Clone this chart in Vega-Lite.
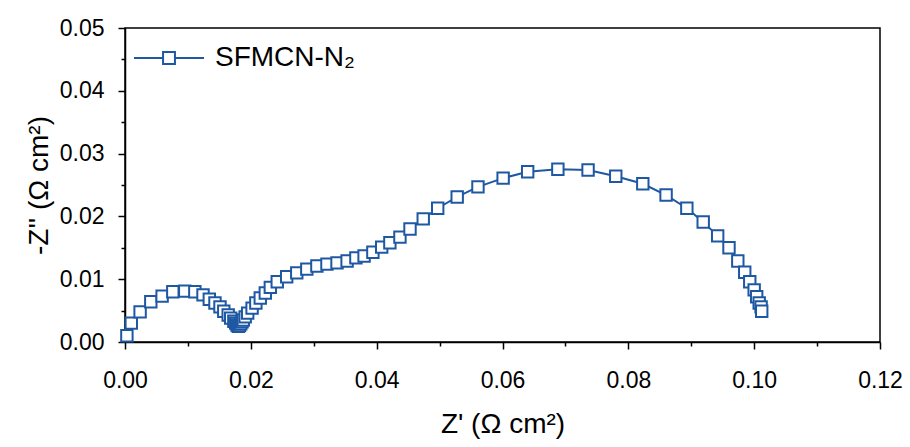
{
  "$schema": "https://vega.github.io/schema/vega-lite/v6.json",
  "width": 755,
  "height": 314,
  "autosize": "none",
  "padding": {"left": 125, "top": 28, "right": 30, "bottom": 105},
  "background": "white",
  "config": {
    "font": "Liberation Sans",
    "view": {"stroke": "black", "strokeWidth": 1.5},
    "axis": {"grid": false, "domainColor": "black", "domainWidth": 1.5, "tickColor": "black", "tickWidth": 1.5, "labelColor": "black", "titleColor": "black", "titleFontWeight": "normal", "labelFont": "Liberation Sans", "titleFont": "Liberation Sans"}
  },
  "data": {"values": [
    {"i": 1, "x": 0.0003, "y": 0.0010, "s": "SFMCN-N₂"},
    {"i": 2, "x": 0.0010, "y": 0.0030, "s": "SFMCN-N₂"},
    {"i": 3, "x": 0.0024, "y": 0.0048, "s": "SFMCN-N₂"},
    {"i": 4, "x": 0.0041, "y": 0.0064, "s": "SFMCN-N₂"},
    {"i": 5, "x": 0.0059, "y": 0.0073, "s": "SFMCN-N₂"},
    {"i": 6, "x": 0.0076, "y": 0.0080, "s": "SFMCN-N₂"},
    {"i": 7, "x": 0.0095, "y": 0.0081, "s": "SFMCN-N₂"},
    {"i": 8, "x": 0.0111, "y": 0.0080, "s": "SFMCN-N₂"},
    {"i": 9, "x": 0.0124, "y": 0.0075, "s": "SFMCN-N₂"},
    {"i": 10, "x": 0.0134, "y": 0.0068, "s": "SFMCN-N₂"},
    {"i": 11, "x": 0.0143, "y": 0.0062, "s": "SFMCN-N₂"},
    {"i": 12, "x": 0.0151, "y": 0.0056, "s": "SFMCN-N₂"},
    {"i": 13, "x": 0.0157, "y": 0.0049, "s": "SFMCN-N₂"},
    {"i": 14, "x": 0.0164, "y": 0.0043, "s": "SFMCN-N₂"},
    {"i": 15, "x": 0.0168, "y": 0.0038, "s": "SFMCN-N₂"},
    {"i": 16, "x": 0.0173, "y": 0.0033, "s": "SFMCN-N₂"},
    {"i": 17, "x": 0.0176, "y": 0.0030, "s": "SFMCN-N₂"},
    {"i": 18, "x": 0.0178, "y": 0.0027, "s": "SFMCN-N₂"},
    {"i": 19, "x": 0.0180, "y": 0.0025, "s": "SFMCN-N₂"},
    {"i": 20, "x": 0.0182, "y": 0.0026, "s": "SFMCN-N₂"},
    {"i": 21, "x": 0.0184, "y": 0.0029, "s": "SFMCN-N₂"},
    {"i": 22, "x": 0.0186, "y": 0.0032, "s": "SFMCN-N₂"},
    {"i": 23, "x": 0.0188, "y": 0.0035, "s": "SFMCN-N₂"},
    {"i": 24, "x": 0.0191, "y": 0.0040, "s": "SFMCN-N₂"},
    {"i": 25, "x": 0.0195, "y": 0.0046, "s": "SFMCN-N₂"},
    {"i": 26, "x": 0.0202, "y": 0.0054, "s": "SFMCN-N₂"},
    {"i": 27, "x": 0.0208, "y": 0.0062, "s": "SFMCN-N₂"},
    {"i": 28, "x": 0.0215, "y": 0.0070, "s": "SFMCN-N₂"},
    {"i": 29, "x": 0.0223, "y": 0.0078, "s": "SFMCN-N₂"},
    {"i": 30, "x": 0.0231, "y": 0.0087, "s": "SFMCN-N₂"},
    {"i": 31, "x": 0.0242, "y": 0.0096, "s": "SFMCN-N₂"},
    {"i": 32, "x": 0.0257, "y": 0.0104, "s": "SFMCN-N₂"},
    {"i": 33, "x": 0.0273, "y": 0.0110, "s": "SFMCN-N₂"},
    {"i": 34, "x": 0.0289, "y": 0.0116, "s": "SFMCN-N₂"},
    {"i": 35, "x": 0.0305, "y": 0.0121, "s": "SFMCN-N₂"},
    {"i": 36, "x": 0.0321, "y": 0.0124, "s": "SFMCN-N₂"},
    {"i": 37, "x": 0.0337, "y": 0.0126, "s": "SFMCN-N₂"},
    {"i": 38, "x": 0.0353, "y": 0.0129, "s": "SFMCN-N₂"},
    {"i": 39, "x": 0.0367, "y": 0.0134, "s": "SFMCN-N₂"},
    {"i": 40, "x": 0.0380, "y": 0.0137, "s": "SFMCN-N₂"},
    {"i": 41, "x": 0.0394, "y": 0.0143, "s": "SFMCN-N₂"},
    {"i": 42, "x": 0.0408, "y": 0.0151, "s": "SFMCN-N₂"},
    {"i": 43, "x": 0.0421, "y": 0.0158, "s": "SFMCN-N₂"},
    {"i": 44, "x": 0.0437, "y": 0.0167, "s": "SFMCN-N₂"},
    {"i": 45, "x": 0.0453, "y": 0.0180, "s": "SFMCN-N₂"},
    {"i": 46, "x": 0.0474, "y": 0.0196, "s": "SFMCN-N₂"},
    {"i": 47, "x": 0.0497, "y": 0.0213, "s": "SFMCN-N₂"},
    {"i": 48, "x": 0.0528, "y": 0.0231, "s": "SFMCN-N₂"},
    {"i": 49, "x": 0.0561, "y": 0.0247, "s": "SFMCN-N₂"},
    {"i": 50, "x": 0.0601, "y": 0.0261, "s": "SFMCN-N₂"},
    {"i": 51, "x": 0.0640, "y": 0.0271, "s": "SFMCN-N₂"},
    {"i": 52, "x": 0.0688, "y": 0.0275, "s": "SFMCN-N₂"},
    {"i": 53, "x": 0.0736, "y": 0.0274, "s": "SFMCN-N₂"},
    {"i": 54, "x": 0.0780, "y": 0.0264, "s": "SFMCN-N₂"},
    {"i": 55, "x": 0.0823, "y": 0.0252, "s": "SFMCN-N₂"},
    {"i": 56, "x": 0.0860, "y": 0.0234, "s": "SFMCN-N₂"},
    {"i": 57, "x": 0.0893, "y": 0.0213, "s": "SFMCN-N₂"},
    {"i": 58, "x": 0.0919, "y": 0.0191, "s": "SFMCN-N₂"},
    {"i": 59, "x": 0.0942, "y": 0.0169, "s": "SFMCN-N₂"},
    {"i": 60, "x": 0.0960, "y": 0.0150, "s": "SFMCN-N₂"},
    {"i": 61, "x": 0.0974, "y": 0.0129, "s": "SFMCN-N₂"},
    {"i": 62, "x": 0.0985, "y": 0.0111, "s": "SFMCN-N₂"},
    {"i": 63, "x": 0.0993, "y": 0.0096, "s": "SFMCN-N₂"},
    {"i": 64, "x": 0.1000, "y": 0.0083, "s": "SFMCN-N₂"},
    {"i": 65, "x": 0.1004, "y": 0.0072, "s": "SFMCN-N₂"},
    {"i": 66, "x": 0.1008, "y": 0.0062, "s": "SFMCN-N₂"},
    {"i": 67, "x": 0.1011, "y": 0.0056, "s": "SFMCN-N₂"},
    {"i": 68, "x": 0.1012, "y": 0.0049, "s": "SFMCN-N₂"}
  ]},
  "encoding": {
    "x": {"field": "x", "type": "quantitative",
      "scale": {"domain": [0, 0.12], "nice": false, "zero": false},
      "axis": {"title": "Z' (Ω cm²)", "values": [0, 0.01, 0.02, 0.03, 0.04, 0.05, 0.06, 0.07, 0.08, 0.09, 0.1, 0.11, 0.12],
        "labelExpr": "round(datum.value*100) % 2 == 0 ? format(datum.value, '.2f') : ''",
        "tickSize": {"condition": {"test": "round(datum.value*100) % 2 == 0", "value": 7}, "value": 4},
        "labelFontSize": 23, "titleFontSize": 28,
        "labelPadding": 20, "titlePadding": 18, "labelFlush": false}},
    "y": {"field": "y", "type": "quantitative",
      "scale": {"domain": [0, 0.05], "nice": false, "zero": false},
      "axis": {"title": "-Z'' (Ω cm²)", "values": [0, 0.005, 0.01, 0.015, 0.02, 0.025, 0.03, 0.035, 0.04, 0.045, 0.05],
        "labelExpr": "abs(datum.value*100 - round(datum.value*100)) < 0.01 ? format(datum.value, '.2f') : ''",
        "tickSize": {"condition": {"test": "abs(datum.value*100 - round(datum.value*100)) < 0.01", "value": 7}, "value": 4},
        "labelFontSize": 23, "titleFontSize": 28,
        "labelPadding": 14, "titlePadding": 6, "labelFlush": false}},
    "order": {"field": "i", "type": "quantitative"}
  },
  "layer": [
    {"mark": {"type": "line", "color": "#1f58a2", "strokeWidth": 2}},
    {"mark": {"type": "point", "shape": "square", "filled": false, "fill": "white", "fillOpacity": 1, "strokeWidth": 2, "size": 130},
     "encoding": {"color": {"field": "s", "type": "nominal", "scale": {"range": ["#1f58a2"]},
       "legend": {"title": null, "orient": "none", "legendX": 8, "legendY": -6, "symbolType": "M-1,0L-0.17,0M0.17,0L1,0M-0.17,-0.17L0.17,-0.17L0.17,0.17L-0.17,0.17Z", "symbolSize": 4900, "symbolStrokeWidth": 2, "symbolFillColor": "white", "labelFontSize": 28, "labelColor": "black", "labelOffset": 10}}}}
  ]
}
